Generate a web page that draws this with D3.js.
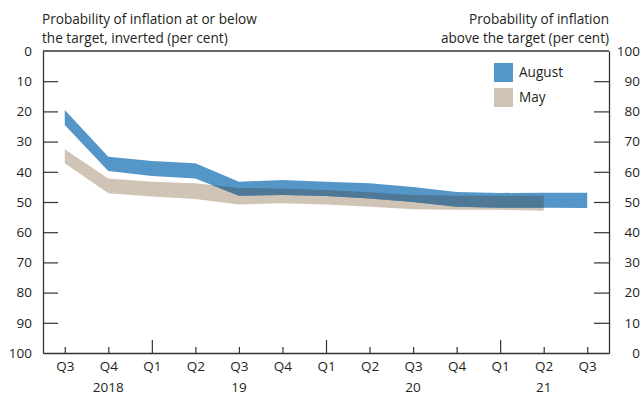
<!DOCTYPE html>
<html>
<head>
<meta charset="utf-8">
<script src="https://cdn.jsdelivr.net/npm/d3@7"></script>
<style>
  html, body { margin: 0; padding: 0; background: #fff; }
  svg { display: block; }
  text { font-family: "Open Sans", "Noto Sans", sans-serif; fill: #231f20; }
</style>
</head>
<body>
<svg id="chart" width="643" height="396"></svg>
<script>
// Quarters on the horizontal axis
const quarters = ["2018 Q3", "2018 Q4", "2019 Q1", "2019 Q2", "2019 Q3", "2019 Q4",
                  "2020 Q1", "2020 Q2", "2020 Q3", "2020 Q4", "2021 Q1", "2021 Q2", "2021 Q3"];

// Year captions and the quarter each one sits under
const yearLabels  = ["2018", "19", "20", "21"];
const yearAnchors = ["2018 Q4", "2019 Q3", "2020 Q3", "2021 Q2"];

// Probability of inflation at or below target (inverted scale), band edges, per cent
const augustUpper = [19.5, 35.0, 36.4, 37.2, 43.3, 42.7, 43.3, 43.8, 45.0, 46.7, 47.0, 46.9, 46.9];
const augustLower = [24.5, 39.7, 41.4, 42.2, 47.9, 47.7, 48.0, 48.8, 50.0, 51.6, 51.9, 51.9, 52.0];
const mayUpper    = [32.5, 42.2, 43.3, 43.8, 45.4, 45.5, 46.0, 46.8, 47.7, 47.9, 47.9, 47.9];
const mayLower    = [37.2, 47.1, 48.2, 49.0, 50.8, 50.4, 50.8, 51.6, 52.4, 52.6, 52.6, 52.9];

// Axis tick values
const leftTicks  = [0, 10, 20, 30, 40, 50, 60, 70, 80, 90, 100];
const rightTicks = [0, 10, 20, 30, 40, 50, 60, 70, 80, 90, 100];

const colors = { august: "#5596c8", may: "#d0c4b6", overlap: "#4e7896", axis: "#333333" };

const W = 643, H = 396;
const margin = { top: 51, right: 34, bottom: 43, left: 43 };
const innerW = W - margin.left - margin.right;
const innerH = H - margin.top - margin.bottom;

const svg = d3.select("#chart");
const g = svg.append("g").attr("transform", `translate(${margin.left},${margin.top})`);

const x = d3.scalePoint().domain(quarters).range([0, innerW]).padding(0.5);
const y = d3.scaleLinear().domain([0, 100]).range([0, innerH]);        // inverted: 0 at top
const yRight = d3.scaleLinear().domain([100, 0]).range([0, innerH]);  // above target

const bandData = (upper, lower) => upper.map((u, i) => ({ q: quarters[i], u, l: lower[i] }));
const august = bandData(augustUpper, augustLower);
const may = bandData(mayUpper, mayLower);

const area = d3.area()
  .x(d => x(d.q))
  .y0(d => y(d.l))
  .y1(d => y(d.u))
  .curve(d3.curveLinear);

// Bands
g.append("path").attr("d", area(may)).attr("fill", colors.may);
g.append("path").attr("d", area(august)).attr("fill", colors.august);

// Where the two projections overlap
g.append("clipPath").attr("id", "may-clip")
  .append("path").attr("d", area(may));
g.append("path").attr("d", area(august))
  .attr("fill", colors.overlap)
  .attr("clip-path", "url(#may-clip)");

// Axes
const fontSize = 13.5;
function styleAxis(sel) {
  sel.select(".domain").attr("stroke", colors.axis).attr("stroke-width", 1.3);
  sel.selectAll(".tick line").attr("stroke", colors.axis).attr("stroke-width", 1.2);
  sel.selectAll(".tick text")
    .attr("fill", "#231f20")
    .style("font-size", fontSize + "px")
    .style("font-family", '"Open Sans", "Noto Sans", sans-serif');
}

const leftAxis = g.append("g")
  .call(d3.axisLeft(y).tickValues(leftTicks).tickSizeInner(-15).tickSizeOuter(0).tickPadding(11)
    .tickFormat(d3.format("d")));
styleAxis(leftAxis);
leftAxis.selectAll(".tick line").filter(d => d === 0 || d === 100).remove();

const rightAxis = g.append("g").attr("transform", `translate(${innerW},0)`)
  .call(d3.axisRight(yRight).tickValues(rightTicks).tickSizeInner(-15).tickSizeOuter(0)
    .tickFormat(d3.format("d")));
styleAxis(rightAxis);
rightAxis.selectAll(".tick line").filter(d => d === 0 || d === 100).remove();
rightAxis.selectAll(".tick text").attr("text-anchor", "end").attr("x", 31);

// Top edge of the frame
g.append("line")
  .attr("x1", 0).attr("x2", innerW).attr("y1", 0).attr("y2", 0)
  .attr("stroke", colors.axis).attr("stroke-width", 1.3);

const bottomAxis = g.append("g").attr("transform", `translate(0,${innerH})`)
  .call(d3.axisBottom(x).tickSizeInner(-6).tickSizeOuter(0).tickPadding(8)
    .tickFormat(d => d.split(" ")[1]));
styleAxis(bottomAxis);
// Year boundaries get a taller tick
bottomAxis.selectAll(".tick line").filter(d => d.endsWith("Q1")).attr("y2", -13);

// Year captions
g.append("g").selectAll("text")
  .data(yearLabels)
  .join("text")
  .attr("x", (d, i) => x(yearAnchors[i]))
  .attr("y", innerH + 39)
  .attr("text-anchor", "middle")
  .style("font-size", fontSize + "px")
  .text(d => d);

// Axis titles
const titleSize = 13.6;
const leftTitle = ["Probability of inflation at or below", "the target, inverted (per cent)"];
const rightTitle = ["Probability of inflation", "above the target (per cent)"];

svg.append("g").selectAll("text").data(leftTitle).join("text")
  .attr("x", margin.left - 1)
  .attr("y", (d, i) => 24 + i * 19)
  .style("font-size", titleSize + "px")
  .text(d => d);

svg.append("g").selectAll("text").data(rightTitle).join("text")
  .attr("x", margin.left + innerW)
  .attr("y", (d, i) => 24 + i * 19)
  .attr("text-anchor", "end")
  .style("font-size", titleSize + "px")
  .text(d => d);

// Legend
const legendItems = ["August", "May"];
const legendColors = [colors.august, colors.may];
const legend = svg.append("g").attr("transform", "translate(494,63)");
const item = legend.selectAll("g").data(legendItems).join("g")
  .attr("transform", (d, i) => `translate(0,${i * 25})`);
item.append("rect")
  .attr("width", 19).attr("height", 19)
  .attr("fill", (d, i) => legendColors[i]);
item.append("text")
  .attr("x", 25).attr("y", 9.5)
  .attr("dy", "0.35em")
  .style("font-size", titleSize + "px")
  .text(d => d);
</script>
</body>
</html>
